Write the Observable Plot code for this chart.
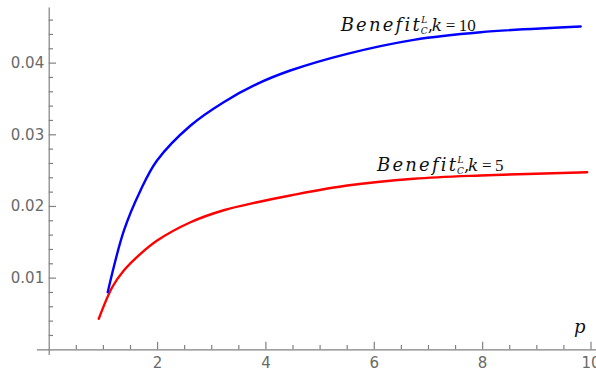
<!DOCTYPE html>
<html><head><meta charset="utf-8">
<script src="https://cdn.jsdelivr.net/npm/d3@7"></script>
<script src="https://cdn.jsdelivr.net/npm/@observablehq/plot@0.6"></script>
<style>body{margin:0;background:#fff}#chart svg{display:block}#chart text{font-variant-ligatures:none;font-kerning:none}</style>
</head><body><div id="chart"></div>
<script>
// Data
const pK10 = [1.08, 1.38, 1.685, 1.99, 2.61, 3.22, 3.84, 4.45, 5.50, 6.73, 7.96, 9.81];
const benefitK10 = [0.00804, 0.01665, 0.02223, 0.02641, 0.03130, 0.03455, 0.03711, 0.03897, 0.04130, 0.04325, 0.04431, 0.04511];
const pK5 = [0.915, 1.163, 1.377, 1.685, 1.993, 2.608, 3.22, 3.84, 4.45, 5.50, 6.73, 7.96, 9.93];
const benefitK5 = [0.00433, 0.00873, 0.01106, 0.01339, 0.01525, 0.01780, 0.01947, 0.02059, 0.02153, 0.02292, 0.02386, 0.02432, 0.02478];
const xTicks = [2, 4, 6, 8, 10];
const yTicks = [0.01, 0.02, 0.03, 0.04];
const xMinorTicks = [0.5, 1, 1.5, 2.5, 3, 3.5, 4.5, 5, 5.5, 6.5, 7, 7.5, 8.5, 9, 9.5];
const yMinorTicks = [0.002, 0.004, 0.006, 0.008, 0.012, 0.014, 0.016, 0.018, 0.022, 0.024, 0.026, 0.028, 0.032, 0.034, 0.036, 0.038, 0.042, 0.044, 0.046];
const kValues = ["10", "5"];
const labelP = [5.38, 6.05];
const labelBenefit = [0.04445, 0.02492];
const xAxisLabel = "p";

const k10 = pK10.map((p, i) => ({p, v: benefitK10[i]}));
const k5 = pK5.map((p, i) => ({p, v: benefitK5[i]}));
const labels = kValues.map((k, i) => ({k, p: labelP[i], v: labelBenefit[i]}));

const W = 596, H = 374;
const mL = 48.7, mB = 24.7;
const pxPerX = 54.18, pxPerY = 7167;
const xMax = (W - mL) / pxPerX;
const yMax = (H - mB) / pxPerY;
const axisColor = "#808080";
const majX = 7.5 / pxPerY, minX = 4.3 / pxPerY;
const majY = 7.3 / pxPerX, minY = 4.3 / pxPerX;

const chart = Plot.plot({
  width: W, height: H,
  marginLeft: mL, marginRight: 0, marginTop: 0, marginBottom: mB,
  style: {fontFamily: "DejaVu Sans", fontSize: "15px", color: "#6a6a6a", background: "#fff"},
  x: {domain: [0, xMax], ticks: xTicks, tickSize: 0, tickPadding: 8, tickFormat: d => String(d), label: null},
  y: {domain: [0, yMax], ticks: yTicks, tickSize: 0, tickPadding: 5, tickFormat: d3.format(".2f"), label: null},
  marks: [
    Plot.ruleY([0], {x1: -0.216, x2: xMax, stroke: axisColor, strokeWidth: 1.2}),
    Plot.ruleX([0], {y1: -0.0008, y2: 0.0477, stroke: axisColor, strokeWidth: 1.2}),
    Plot.ruleX(xTicks, {x: d => d, y1: 0, y2: majX, stroke: axisColor, strokeWidth: 1.2}),
    Plot.ruleX(xMinorTicks, {x: d => d, y1: 0, y2: minX, stroke: axisColor, strokeWidth: 1.2}),
    Plot.ruleY(yTicks, {y: d => d, x1: 0, x2: majY, stroke: axisColor, strokeWidth: 1.2}),
    Plot.ruleY(yMinorTicks, {y: d => d, x1: 0, x2: minY, stroke: axisColor, strokeWidth: 1.2}),
    Plot.line(k5, {x: "p", y: "v", stroke: "#ff0000", strokeWidth: 2.4, curve: "catmull-rom"}),
    Plot.line(k10, {x: "p", y: "v", stroke: "#0000ff", strokeWidth: 2.4, curve: "catmull-rom"}),
    Plot.text(labels, {x: "p", y: "v", text: "k", textAnchor: "start", lineAnchor: "bottom",
      fontFamily: "DejaVu Serif", fontSize: 17, fill: "#111", ariaLabel: () => "series-label"}),
    Plot.text([xAxisLabel], {frameAnchor: "bottom-right", dx: -11, dy: -17, textAnchor: "end", lineAnchor: "bottom",
      fontFamily: "DejaVu Serif", fontStyle: "italic", fontSize: 18, fill: "#111"})
  ]
});

// Render the label text with a superscript L and subscript C
const labelNodes = Array.from(chart.querySelectorAll("text")).filter(n => n.getAttribute("aria-label") === "series-label");
labelNodes.forEach((node, i) => {
  const t = d3.select(node);
  const k = labels[i].k;
  t.text(null);
  t.append("tspan").attr("x", 0).attr("y", 0).attr("font-style", "italic").attr("font-size", 18)
    .attr("textLength", 79).attr("lengthAdjust", "spacing").text("Benefit");
  t.append("tspan").attr("x", 80.5).attr("y", -8).attr("font-style", "italic").attr("font-size", 9).text("L");
  t.append("tspan").attr("x", 80).attr("y", 2.5).attr("font-style", "italic").attr("font-size", 9).text("C");
  t.append("tspan").attr("x", 87).attr("y", 0).text(",");
  t.append("tspan").attr("x", 91).attr("y", 0).attr("font-style", "italic").text("k");
  t.append("tspan").attr("x", 105).attr("y", 0).attr("font-family", "Liberation Serif").attr("font-size", 17).text("=");
  t.append("tspan").attr("x", 118).attr("y", 0).attr("font-family", "Liberation Serif").attr("font-size", 17).text(k);
});

document.getElementById("chart").appendChild(chart);
</script>
</body></html>
